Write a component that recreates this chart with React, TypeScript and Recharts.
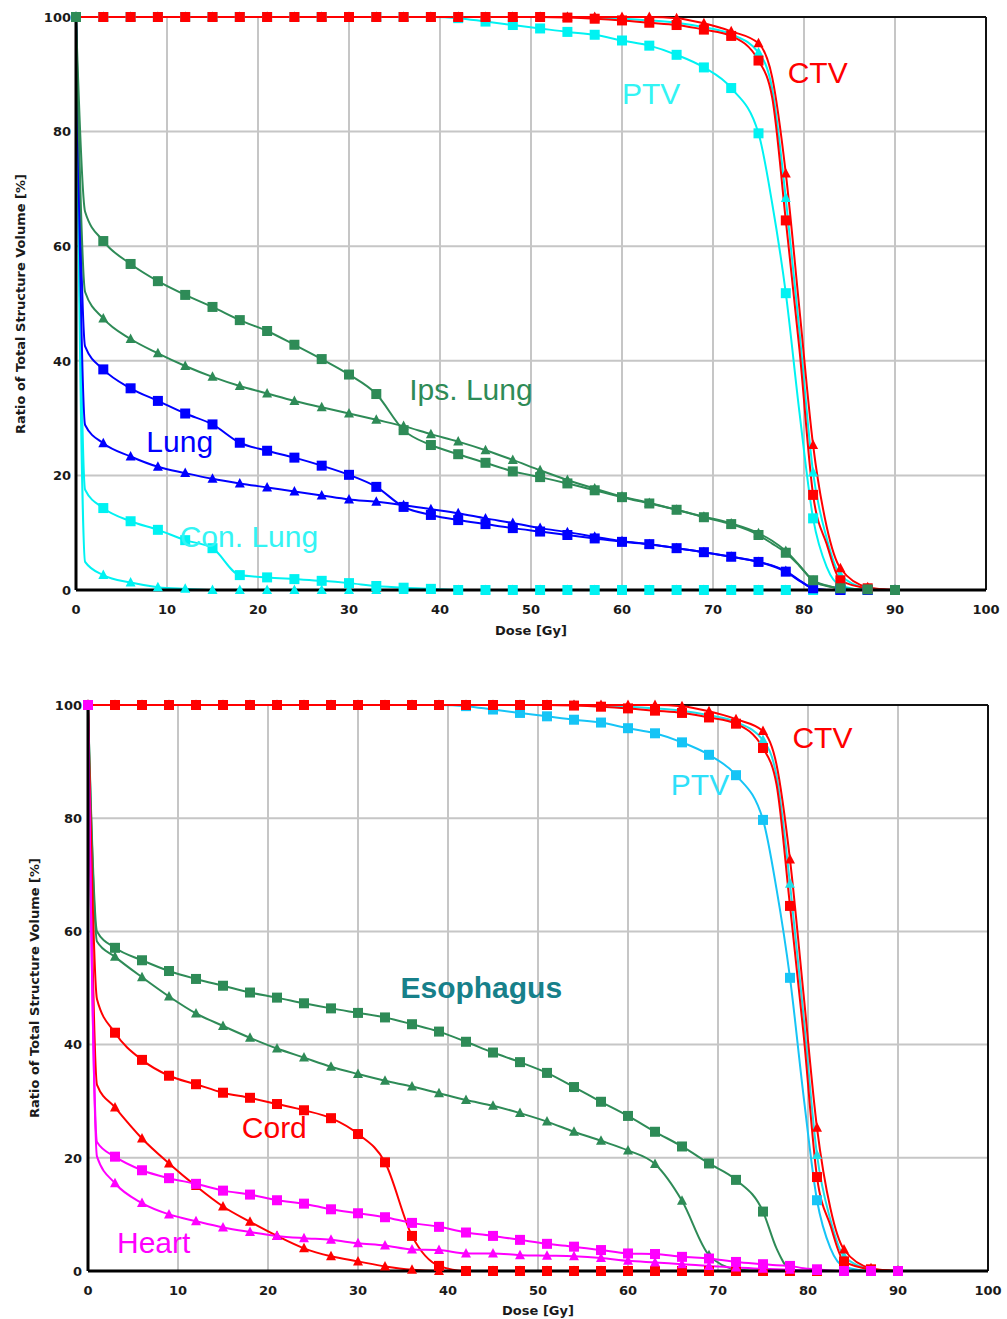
import { LineChart, Line, XAxis, YAxis, CartesianGrid, ReferenceLine, ReferenceDot } from 'recharts';

// dose grid (Gy) shared by every curve; markers only on multiples of 3
const doses = [0, 1, 3, 6, 9, 12, 15, 18, 21, 24, 27, 30, 33, 36, 39, 42, 45, 48, 51, 54, 57, 60, 63, 66, 69, 72, 75, 76.5, 78, 79.5, 81, 82.5, 84, 87, 90];
const xTicks = [0, 10, 20, 30, 40, 50, 60, 70, 80, 90, 100];
const yTicks = [0, 20, 40, 60, 80, 100];

// targets (same in both plans)
const ctvSquare = [100, 100, 100, 100, 100, 100, 100, 100, 100, 100, 100, 100, 100, 100, 100, 100, 100, 100, 100, 99.9, 99.7, 99.4, 99.0, 98.6, 97.8, 96.7, 92.4, 86, 64.5, 42, 16.6, 8, 1.7, 0.3, 0];
const ctvTriangle = [100, 100, 100, 100, 100, 100, 100, 100, 100, 100, 100, 100, 100, 100, 100, 100, 100, 100, 100, 100, 100, 100, 100, 99.8, 98.9, 97.5, 95.4, 89.5, 72.7, 49, 25.3, 11, 3.8, 0.5, 0];
const ptvSquare = [100, 100, 100, 100, 100, 100, 100, 100, 100, 100, 100, 100, 100, 100, 100, 99.8, 99.2, 98.6, 98.0, 97.4, 96.9, 95.9, 95.0, 93.4, 91.2, 87.6, 79.7, 67.5, 51.8, 31, 12.5, 4, 0.8, 0, 0];
const ptvTriangle = [100, 100, 100, 100, 100, 100, 100, 100, 100, 100, 100, 100, 100, 100, 100, 100, 100, 100, 100, 100, 99.9, 99.7, 99.4, 99.0, 98.2, 97.0, 93.8, 87.5, 68.4, 45, 20.5, 9, 2.6, 0.3, 0];

// lung plan
const ipsLungSquare = [100, 66, 60.9, 56.9, 53.9, 51.5, 49.4, 47.1, 45.2, 42.8, 40.3, 37.6, 34.2, 27.9, 25.3, 23.7, 22.2, 20.7, 19.7, 18.6, 17.4, 16.2, 15.1, 14.0, 12.7, 11.5, 9.6, 8.1, 6.5, 4.2, 1.7, 0.8, 0.3, 0.1, 0];
const ipsLungTriangle = [100, 52, 47.4, 43.8, 41.3, 39.1, 37.2, 35.6, 34.3, 33.0, 31.9, 30.8, 29.7, 28.6, 27.2, 25.9, 24.4, 22.7, 20.9, 19.2, 17.7, 16.3, 15.2, 14.0, 12.8, 11.6, 9.9, 8.6, 6.8, 4.3, 1.6, 0.7, 0.3, 0, 0];
const lungSquare = [100, 42.5, 38.5, 35.2, 33.0, 30.8, 28.9, 25.7, 24.3, 23.1, 21.7, 20.1, 18.0, 14.5, 13.1, 12.2, 11.5, 10.8, 10.2, 9.6, 9.0, 8.4, 8.0, 7.3, 6.6, 5.8, 4.9, 4.2, 3.2, 1.6, 0.3, 0, 0, 0, 0];
const lungTriangle = [100, 28.8, 25.6, 23.3, 21.5, 20.4, 19.4, 18.6, 17.9, 17.2, 16.5, 15.8, 15.4, 14.8, 14.1, 13.4, 12.5, 11.7, 10.8, 10.1, 9.3, 8.5, 8.0, 7.3, 6.6, 5.8, 4.9, 4.3, 3.3, 1.7, 0.3, 0, 0, 0, 0];
const conLungSquare = [100, 17.5, 14.3, 12.0, 10.5, 8.7, 7.3, 2.6, 2.2, 1.9, 1.6, 1.2, 0.7, 0.4, 0.2, 0, 0, 0, 0, 0, 0, 0, 0, 0, 0, 0, 0, 0, 0, 0, 0, 0, 0, 0, 0];
const conLungTriangle = [100, 4.9, 2.6, 1.3, 0.5, 0.2, 0, 0, 0, 0, 0, 0, 0, 0, 0, 0, 0, 0, 0, 0, 0, 0, 0, 0, 0, 0, 0, 0, 0, 0, 0, 0, 0, 0, 0];

// esophagus plan
const esophagusSquare = [100, 60, 57.1, 54.9, 53.0, 51.6, 50.4, 49.2, 48.3, 47.3, 46.4, 45.6, 44.8, 43.6, 42.3, 40.5, 38.6, 36.9, 35.0, 32.5, 29.9, 27.4, 24.6, 22.0, 19.0, 16.1, 10.5, 4.0, 0.3, 0, 0, 0, 0, 0, 0];
const esophagusTriangle = [100, 58.2, 55.5, 51.9, 48.5, 45.5, 43.3, 41.2, 39.3, 37.7, 36.1, 34.8, 33.6, 32.6, 31.4, 30.2, 29.2, 27.9, 26.4, 24.6, 23.0, 21.3, 18.9, 12.4, 2.8, 0.3, 0, 0, 0, 0, 0, 0, 0, 0, 0];
const cordSquare = [100, 48, 42.1, 37.3, 34.5, 33.0, 31.5, 30.6, 29.5, 28.4, 27.0, 24.2, 19.2, 6.2, 0.9, 0, 0, 0, 0, 0, 0, 0, 0, 0, 0, 0, 0, 0, 0, 0, 0, 0, 0, 0, 0];
const cordTriangle = [100, 32.9, 28.9, 23.4, 19.0, 15.0, 11.4, 8.7, 6.2, 4.0, 2.6, 1.7, 0.8, 0.2, 0, 0, 0, 0, 0, 0, 0, 0, 0, 0, 0, 0, 0, 0, 0, 0, 0, 0, 0, 0, 0];
const heartSquare = [100, 22.8, 20.2, 17.8, 16.4, 15.4, 14.2, 13.5, 12.5, 11.9, 10.9, 10.2, 9.5, 8.5, 7.8, 6.8, 6.2, 5.5, 4.8, 4.3, 3.7, 3.1, 3.0, 2.5, 2.2, 1.6, 1.2, 1.0, 0.9, 0.5, 0.3, 0.1, 0, 0, 0];
const heartTriangle = [100, 20.2, 15.5, 12.0, 10.0, 8.8, 7.7, 6.9, 6.2, 5.8, 5.5, 4.9, 4.5, 3.8, 3.7, 3.1, 3.1, 2.8, 2.7, 2.6, 2.3, 1.8, 1.5, 1.2, 0.9, 0.6, 0.4, 0.3, 0.2, 0.1, 0, 0, 0, 0, 0];

const RED = '#ff0000';
const CYAN = '#00f2f2';
const SKY = '#16c4f6';
const TURQ = '#22dde6';
const BLUE = '#0000ff';
const GREEN = '#2e8b57';
const MAGENTA = '#ff00ff';

type Shape = 'square' | 'triangle';
interface Series { name: string; values: number[]; color: string; shape: Shape }
interface Note { text: string; dose: number; vol: number; color: string; bold?: boolean }

// drawing order: later series sit on top
const lungSeries: Series[] = [
  { name: 'conTri', values: conLungTriangle, color: CYAN, shape: 'triangle' },
  { name: 'conSq', values: conLungSquare, color: CYAN, shape: 'square' },
  { name: 'ptvTri', values: ptvTriangle, color: CYAN, shape: 'triangle' },
  { name: 'ptvSq', values: ptvSquare, color: CYAN, shape: 'square' },
  { name: 'lungTri', values: lungTriangle, color: BLUE, shape: 'triangle' },
  { name: 'lungSq', values: lungSquare, color: BLUE, shape: 'square' },
  { name: 'ctvTri', values: ctvTriangle, color: RED, shape: 'triangle' },
  { name: 'ctvSq', values: ctvSquare, color: RED, shape: 'square' },
  { name: 'ipsTri', values: ipsLungTriangle, color: GREEN, shape: 'triangle' },
  { name: 'ipsSq', values: ipsLungSquare, color: GREEN, shape: 'square' },
];

const esoSeries: Series[] = [
  { name: 'ptvTri', values: ptvTriangle, color: TURQ, shape: 'triangle' },
  { name: 'ptvSq', values: ptvSquare, color: SKY, shape: 'square' },
  { name: 'esoTri', values: esophagusTriangle, color: GREEN, shape: 'triangle' },
  { name: 'esoSq', values: esophagusSquare, color: GREEN, shape: 'square' },
  { name: 'ctvTri', values: ctvTriangle, color: RED, shape: 'triangle' },
  { name: 'ctvSq', values: ctvSquare, color: RED, shape: 'square' },
  { name: 'cordTri', values: cordTriangle, color: RED, shape: 'triangle' },
  { name: 'cordSq', values: cordSquare, color: RED, shape: 'square' },
  { name: 'heartTri', values: heartTriangle, color: MAGENTA, shape: 'triangle' },
  { name: 'heartSq', values: heartSquare, color: MAGENTA, shape: 'square' },
];

const lungNotes: Note[] = [
  { text: 'CTV', dose: 81.5, vol: 90.4, color: RED },
  { text: 'PTV', dose: 63.2, vol: 86.6, color: '#33f4f4' },
  { text: 'Ips. Lung', dose: 43.4, vol: 35.1, color: GREEN },
  { text: 'Lung', dose: 11.4, vol: 26.0, color: BLUE },
  { text: 'Con. Lung', dose: 19.0, vol: 9.4, color: '#33f4f4' },
];

const esoNotes: Note[] = [
  { text: 'CTV', dose: 81.6, vol: 94.3, color: RED },
  { text: 'PTV', dose: 68.0, vol: 86.0, color: '#2ee0fa' },
  { text: 'Esophagus', dose: 43.7, vol: 50.2, color: '#17808a', bold: true },
  { text: 'Cord', dose: 20.7, vol: 25.3, color: RED },
  { text: 'Heart', dose: 7.3, vol: 5.1, color: MAGENTA },
];

const TICK_FONT = "'DejaVu Sans', Verdana, sans-serif";
const NOTE_FONT = "'Liberation Sans', Arial, sans-serif";

const toPoints = (values: number[]) => doses.map((dose, i) => ({ dose, vol: values[i] }));

function makeDot(color: string, shape: Shape) {
  return (props: any) => {
    const { cx, cy, payload, index } = props;
    if (cx == null || cy == null || payload.dose % 3 !== 0) return <g key={index} />;
    if (shape === 'square') {
      return <rect key={index} x={cx - 5} y={cy - 5} width={10} height={10} fill={color} />;
    }
    return <polygon key={index} points={`${cx},${cy - 5.5} ${cx + 5},${cy + 4} ${cx - 5},${cy + 4}`} fill={color} />;
  };
}

const XTick = (props: any) => (
  <text x={props.x} y={props.y + 24} textAnchor="middle" fontFamily={TICK_FONT} fontSize={13} fontWeight={700} fill="#1a1a1a">
    {props.payload.value}
  </text>
);

const makeYTick = (gap: number) => (props: any) => (
  <text x={props.x - gap} y={props.y + 4.7} textAnchor="end" fontFamily={TICK_FONT} fontSize={13} fontWeight={700} fill="#1a1a1a">
    {props.payload.value}
  </text>
);

interface ChartProps {
  series: Series[];
  notes: Note[];
  height: number;
  marginTop: number;
  marginRight: number;
  yAxisWidth: number;
  xAxisHeight: number;
  yGap: number;
}

function DvhChart({ series, notes, height, marginTop, marginRight, yAxisWidth, xAxisHeight, yGap }: ChartProps) {
  return (
    <LineChart width={1007} height={height} margin={{ top: marginTop, right: marginRight, bottom: 0, left: 0 }}>
      <CartesianGrid stroke="#c6c6c6" strokeWidth={2} />
      <XAxis
        type="number"
        dataKey="dose"
        domain={[0, 100]}
        ticks={xTicks}
        interval={0}
        height={xAxisHeight}
        tickSize={0}
        tickMargin={0}
        tickLine={false}
        axisLine={{ stroke: '#000', strokeWidth: 3 }}
        tick={XTick}
      />
      <YAxis
        type="number"
        domain={[0, 100]}
        ticks={yTicks}
        interval={0}
        width={yAxisWidth}
        tickSize={0}
        tickMargin={0}
        tickLine={false}
        axisLine={{ stroke: '#000', strokeWidth: 3 }}
        tick={makeYTick(yGap)}
      />
      <ReferenceLine x={100} stroke="#111" strokeWidth={2} />
      <ReferenceLine y={100} stroke="#111" strokeWidth={2} />
      {series.map(s => (
        <Line
          key={s.name}
          data={toPoints(s.values)}
          dataKey="vol"
          type="monotone"
          stroke={s.color}
          strokeWidth={2}
          dot={makeDot(s.color, s.shape)}
          activeDot={false}
          isAnimationActive={false}
        />
      ))}
      {notes.map(n => (
        <ReferenceDot
          key={n.text}
          x={n.dose}
          y={n.vol}
          r={0}
          fill="none"
          stroke="none"
          label={{
            value: n.text,
            position: 'center',
            fill: n.color,
            fontSize: 30,
            fontFamily: NOTE_FONT,
            fontWeight: n.bold ? 700 : 400,
          }}
        />
      ))}
    </LineChart>
  );
}

export default function App() {
  const titleStyle = { fontFamily: TICK_FONT, fontWeight: 700, fill: '#1a1a1a' } as const;
  return (
    <div style={{ position: 'absolute', left: 0, top: 0, width: 1007, height: 1319, background: '#fff' }}>
      <div style={{ position: 'absolute', left: 0, top: 0 }}>
        <DvhChart series={lungSeries} notes={lungNotes} height={650} marginTop={17} marginRight={21} yAxisWidth={76} xAxisHeight={60} yGap={5} />
      </div>
      <div style={{ position: 'absolute', left: 0, top: 660 }}>
        <DvhChart series={esoSeries} notes={esoNotes} height={659} marginTop={45} marginRight={19} yAxisWidth={88} xAxisHeight={48} yGap={6} />
      </div>
      <svg width={1007} height={1319} style={{ position: 'absolute', left: 0, top: 0, pointerEvents: 'none' }}>
        <text x={531} y={634.5} textAnchor="middle" fontSize={13} {...titleStyle}>Dose [Gy]</text>
        <text x={538} y={1314.5} textAnchor="middle" fontSize={13} {...titleStyle}>Dose [Gy]</text>
        <text x={25} y={304} transform="rotate(-90 25 304)" textAnchor="middle" fontSize={13} {...titleStyle}>Ratio of Total Structure Volume [%]</text>
        <text x={39} y={988} transform="rotate(-90 39 988)" textAnchor="middle" fontSize={13} {...titleStyle}>Ratio of Total Structure Volume [%]</text>
      </svg>
    </div>
  );
}
